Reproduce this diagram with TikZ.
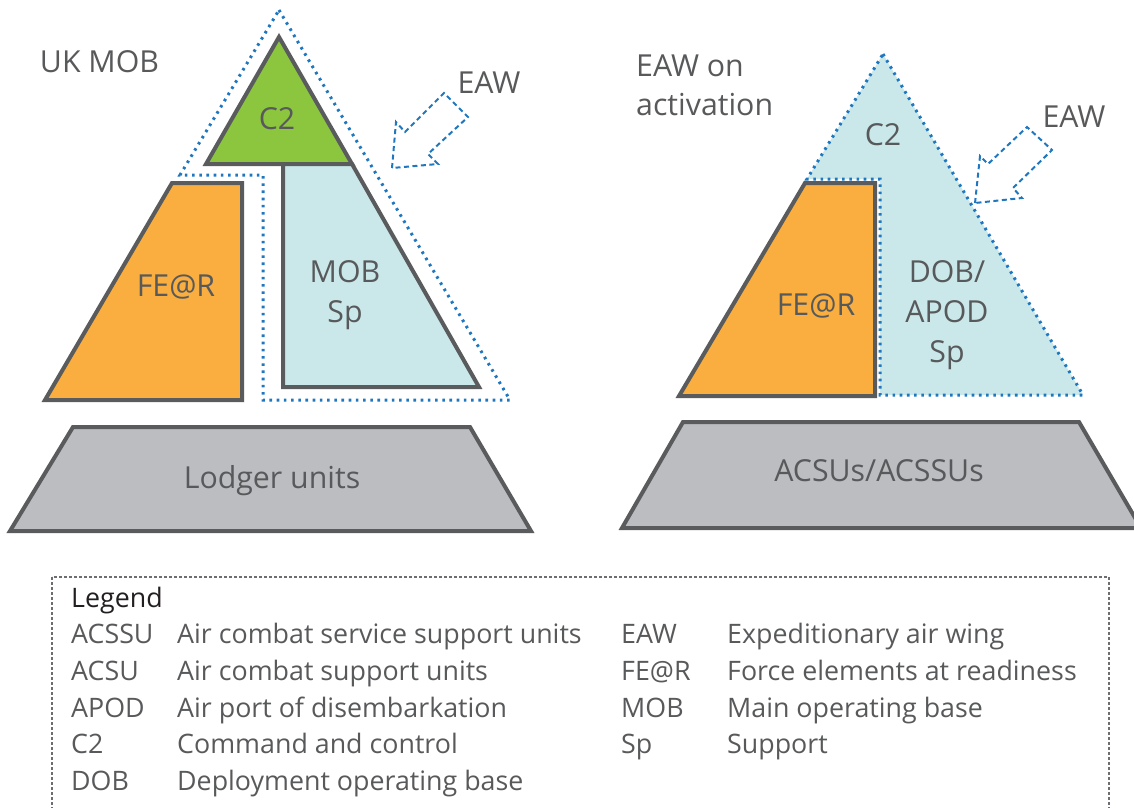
\documentclass[tikz,border=0pt]{standalone}
\usepackage{fontspec}
\setmainfont{Open Sans}
\definecolor{outl}{HTML}{5A5B5D}
\definecolor{cgreen}{HTML}{8CC63F}
\definecolor{corange}{HTML}{F9AE3F}
\definecolor{cblue}{HTML}{CAE8EA}
\definecolor{cgray}{HTML}{BCBDC0}
\definecolor{dotblue}{HTML}{1F77C0}
\definecolor{txtgray}{HTML}{58595B}
\definecolor{txtdark}{HTML}{231F20}
\definecolor{legline}{HTML}{6D6E71}
\begin{document}
\begin{tikzpicture}[x=1pt,y=-1pt,
  shapeline/.style={draw=outl, line width=4pt, line join=miter},
  dotline/.style={draw=dotblue, line width=3pt, dash pattern=on 2.6pt off 4.6pt},
  arrowline/.style={draw=dotblue, line width=2pt, dash pattern=on 5pt off 3.5pt, line join=miter, fill=white},
  lbl/.style={font=\fontsize{30.3}{36}\selectfont, text=txtgray, inner sep=0pt, anchor=base},
  lblw/.style={lbl, anchor=base west},
  leg/.style={font=\fontsize{26.8}{32}\selectfont, text=txtgray, inner sep=0pt, anchor=base west},
]
\useasboundingbox (0,0) rectangle (1134,807);
\clip (0,0) rectangle (1134,807);

% ---------------- Left diagram ----------------
\path[dotline] (279,10) -- (510,400) -- (263,400) -- (263,175) -- (180,175) -- cycle;
\path[shapeline, fill=corange] (45,400) -- (172,183) -- (242,183) -- (242,400) -- cycle;
\path[shapeline, fill=cgreen] (279,37) -- (352,164) -- (206,164) -- cycle;
\path[shapeline, fill=cblue] (283,164) -- (352,164) -- (479,387) -- (283,387) -- cycle;
\path[arrowline] (392,168) -- (396,122) -- (405,132) -- (444,93) -- (468,117) -- (428,154) -- (438,164) -- cycle;
\path[shapeline, fill=cgray] (73,427) -- (470,427) -- (531,531) -- (10,531) -- cycle;

\node[lbl] (ukmob) at (99.5,72.5) {UK MOB};
\node[lbl] (eawL) at (489,93) {EAW};
\node[lbl] (c2L) at (277,129) {C2};
\node[lbl] (ferL) at (176,296) {FE@R};
\node[lbl] (mobL1) at (345,282) {MOB};
\node[lbl] (mobL2) at (345,322) {Sp};
\node[lbl] (lodger) at (272,488) {Lodger units};

% ---------------- Right diagram ----------------
\path[dotline, fill=cblue] (883,54) -- (1083,395) -- (880,395) -- (880,179) -- (807,179) -- cycle;
\path[shapeline, fill=corange] (679,396) -- (805,183) -- (875,183) -- (875,396) -- cycle;
\path[arrowline] (975,203) -- (980,156) -- (988,164) -- (1027,127) -- (1052,150) -- (1013,188) -- (1022,198) -- cycle;
\path[shapeline, fill=cgray] (683,422) -- (1079,422) -- (1141,528) -- (622,528) -- cycle;

\node[lblw] (eawon1) at (636,76) {EAW on};
\node[lblw] (eawon2) at (636,115) {activation};
\node[lbl] (eawR) at (1074,127) {EAW};
\node[lbl] (c2R) at (883,145) {C2};
\node[lbl] (ferR) at (816,315) {FE@R};
\node[lbl] (dob1) at (947,282) {DOB/};
\node[lbl] (dob2) at (947,322) {APOD};
\node[lbl] (dob3) at (947,362) {Sp};
\node[lbl] (acsus) at (879,481) {ACSUs/ACSSUs};

% ---------------- Legend ----------------
\draw[legline, line width=1.2pt, dash pattern=on 3pt off 2pt] (52,577) rectangle (1109,830);
\node[leg, text=txtdark] (legend) at (71,607) {Legend};
\node[leg] (a1) at (71,643) {ACSSU};
\node[leg] (d1) at (177,643) {Air combat service support units};
\node[leg] (a2) at (71,680) {ACSU};
\node[leg] (d2) at (177,680) {Air combat support units};
\node[leg] (a3) at (71,717) {APOD};
\node[leg] (d3) at (177,717) {Air port of disembarkation};
\node[leg] (a4) at (71,753) {C2};
\node[leg] (d4) at (177,753) {Command and control};
\node[leg] (a5) at (71,790) {DOB};
\node[leg] (d5) at (177,790) {Deployment operating base};
\node[leg] (b1) at (621,643) {EAW};
\node[leg] (e1) at (727,643) {Expeditionary air wing};
\node[leg] (b2) at (621,680) {FE@R};
\node[leg] (e2) at (727,680) {Force elements at readiness};
\node[leg] (b3) at (621,717) {MOB};
\node[leg] (e3) at (727,717) {Main operating base};
\node[leg] (b4) at (621,753) {Sp};
\node[leg] (e4) at (727,753) {Support};
\end{tikzpicture}
\end{document}
